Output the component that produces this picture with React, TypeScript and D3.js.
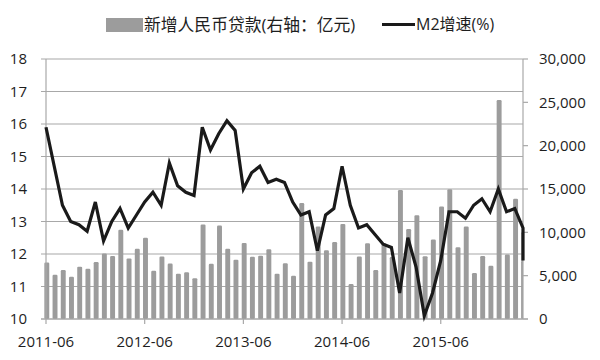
import React from "react";
import * as d3 from "d3";

// Monthly series, 2011-06 .. 2016-05
const startMonth = "2011-06";
const m2Growth: number[] = [
  15.9, 14.7, 13.5, 13.0, 12.9, 12.7, 13.6,
  12.4, 13.0, 13.4, 12.8, 13.2, 13.6, 13.9, 13.5, 14.8, 14.1, 13.9, 13.8,
  15.9, 15.2, 15.7, 16.1, 15.8, 14.0, 14.5, 14.7, 14.2, 14.3, 14.2, 13.6,
  13.2, 13.3, 12.1, 13.2, 13.4, 14.7, 13.5, 12.8, 12.9, 12.6, 12.3, 12.2,
  10.8, 12.5, 11.6, 10.1, 10.8, 11.8, 13.3, 13.3, 13.1, 13.5, 13.7, 13.3,
  14.0, 13.3, 13.4, 12.8, 11.8,
];
const newLoans: number[] = [
  6339, 4922, 5485, 4700, 5868, 5622, 6405,
  7381, 7107, 10114, 6818, 7932, 9198, 5401, 7039, 6232, 5052, 5229, 4543,
  10721, 6200, 10625, 7929, 6674, 8605, 6999, 7133, 7870, 5061, 6246, 4825,
  13200, 6445, 10500, 7747, 8708, 10800, 3852, 7025, 8572, 5483, 8527, 6973,
  14700, 10200, 11800, 7079, 9008, 12800, 14800, 8096, 10500, 5136, 7089, 5978,
  25100, 7266, 13700, 6500, 9855,
];
const xTickLabels: string[] = ["2011-06", "2012-06", "2013-06", "2014-06", "2015-06"];
const leftTicks: number[] = [10, 11, 12, 13, 14, 15, 16, 17, 18];
const rightTicks: number[] = [0, 5000, 10000, 15000, 20000, 25000, 30000];
const legendBar = "新增人民币贷款(右轴：亿元)";
const legendLine = "M2增速(%)";

const monthIndex = (label: string) => {
  const [y0, m0] = startMonth.split("-").map(Number);
  const [y, m] = label.split("-").map(Number);
  return (y - y0) * 12 + (m - m0);
};

export default function App() {
  const W = 600, H = 360;
  const left = 46, right = 523, top = 59, bottom = 319;
  const font = "'Open Sans', 'Noto Sans CJK SC', sans-serif";
  const textColor = "#1e1e1e";
  const gridColor = "#a8a8a8";
  const barColor = "#9c9c9c";

  const x = d3.scaleLinear().domain([0, 58]).range([left, right]).clamp(true);
  const yL = d3.scaleLinear().domain([10, 18]).range([bottom, top]);
  const yR = d3.scaleLinear().domain([0, 30000]).range([bottom, top]);
  const step = x(1) - x(0);
  const bw = step * 0.6;

  const line = d3
    .line<number>()
    .x((_, i) => x(i))
    .y((d) => yL(d));

  return (
    <svg
      width={W}
      height={H}
      style={{ position: "fixed", left: 0, top: 0, background: "#fff" }}
      fontFamily={font}
    >
      <defs>
        <clipPath id="plotClip">
          <rect x={left - 6} y={0} width={right - left + 6} height={bottom + 1} />
        </clipPath>
      </defs>
      {leftTicks.map((t) => (
        <line
          key={"g" + t}
          x1={left - 5}
          x2={right}
          y1={yL(t)}
          y2={yL(t)}
          stroke={gridColor}
          strokeWidth={1.2}
        />
      ))}
      {rightTicks.map((t) => (
        <line
          key={"rt" + t}
          x1={right}
          x2={right + 5}
          y1={yR(t)}
          y2={yR(t)}
          stroke={gridColor}
          strokeWidth={1.2}
        />
      ))}
      <g clipPath="url(#plotClip)">
        {newLoans.map((v, i) => (
          <rect
            key={"b" + i}
            x={x(i) - bw / 2 + 0.8}
            y={yR(v) - 1.5}
            width={bw}
            height={bottom - yR(v) + 1.5}
            rx={1.2}
            fill={barColor}
          />
        ))}
      </g>
      <line x1={left} x2={left} y1={top} y2={bottom} stroke={gridColor} strokeWidth={1.2} />
      <line x1={right} x2={right} y1={top} y2={bottom} stroke={gridColor} strokeWidth={1.2} />
      <line x1={left - 5} x2={right + 5} y1={bottom} y2={bottom} stroke={gridColor} strokeWidth={1.2} />
      {xTickLabels.map((lab) => {
        const xi = x(monthIndex(lab));
        return (
          <g key={lab}>
            <line x1={xi} x2={xi} y1={bottom} y2={bottom + 5} stroke={gridColor} strokeWidth={1.2} />
            <text x={xi} y={347} textAnchor="middle" fontSize={15} fill={textColor}>
              {lab}
            </text>
          </g>
        );
      })}
      <path
        d={line(m2Growth) || ""}
        fill="none"
        stroke="#1a1a1a"
        strokeWidth={3.2}
        strokeLinejoin="miter"
      />
      {leftTicks.map((t) => (
        <text
          key={"l" + t}
          x={27}
          y={yL(t)}
          dy="0.36em"
          textAnchor="end"
          fontSize={15}
          fill={textColor}
        >
          {t}
        </text>
      ))}
      {rightTicks.map((t) => (
        <text
          key={"r" + t}
          x={539}
          y={yR(t)}
          dy="0.36em"
          textAnchor="start"
          fontSize={15}
          fill={textColor}
        >
          {d3.format(",")(t)}
        </text>
      ))}
      <rect x={106} y={18} width={37} height={14} fill={barColor} />
      <text x={144} y={24.5} dy="0.36em" fontSize={16.8} fill={textColor}>
        {legendBar}
      </text>
      <line x1={382} x2={415} y1={24.5} y2={24.5} stroke="#1a1a1a" strokeWidth={3} />
      <text x={416} y={24.5} dy="0.36em" fontSize={16} fill={textColor}>
        {legendLine}
      </text>
    </svg>
  );
}
